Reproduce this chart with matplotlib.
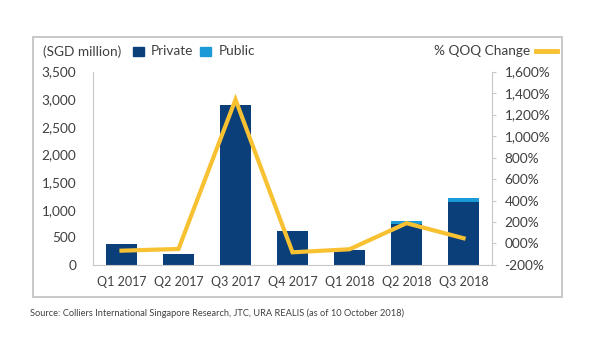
import numpy as np
import matplotlib.pyplot as plt
from matplotlib.patches import Rectangle
from matplotlib.lines import Line2D

quarters = ["Q1 2017", "Q2 2017", "Q3 2017", "Q4 2017", "Q1 2018", "Q2 2018", "Q3 2018"]
private = [380, 190, 2900, 620, 270, 740, 1140]
public = [0, 0, 0, 0, 0, 50, 75]
qoq_change = [-67, -51, 1340, -82, -54, 189, 49]

left_ticks = [0, 500, 1000, 1500, 2000, 2500, 3000, 3500]
right_ticks = [-200, 0, 200, 400, 600, 800, 1000, 1200, 1400, 1600]
right_labels = ["-200%", "000%", "200%", "400%", "600%", "800%",
                "1,000%", "1,200%", "1,400%", "1,600%"]

navy = "#0b3f7a"
light_blue = "#1a9ad7"
yellow = "#f8c132"
grey_text = "#404040"
axis_grey = "#c8c8c8"

plt.rcParams["font.family"] = ["Lato", "DejaVu Sans"]

fig = plt.figure(figsize=(6, 3.6), dpi=100)
ax = fig.add_axes([0.155, 0.264, 0.665, 0.537])
ax2 = ax.twinx()

x = np.arange(len(quarters))
ax.bar(x, private, width=0.53, color=navy, zorder=2)
ax.bar(x, public, width=0.53, bottom=private, color=light_blue, zorder=2)
ax2.plot(x, qoq_change, color=yellow, lw=3, solid_joinstyle="miter", zorder=3)

ax.set_xlim(-0.5, len(quarters) - 0.5)
ax.set_ylim(0, 3500)
ax.set_yticks(left_ticks)
ax.set_yticklabels([f"{v:,}" for v in left_ticks])
ax.set_xticks(x)
ax.set_xticklabels(quarters)
ax2.set_ylim(-200, 1600)
ax2.set_yticks(right_ticks)
ax2.set_yticklabels(right_labels)

for a in (ax, ax2):
    for s in a.spines.values():
        s.set_visible(False)
    a.tick_params(colors=grey_text, labelsize=9.8, length=0)
ax.spines["left"].set_visible(True)
ax.spines["left"].set_color(axis_grey)
ax.spines["bottom"].set_visible(True)
ax.spines["bottom"].set_color(axis_grey)
ax2.spines["right"].set_visible(True)
ax2.spines["right"].set_color(axis_grey)
ax2.tick_params(axis="y", length=3, color=axis_grey, direction="out", pad=6)
ax.tick_params(axis="y", pad=12)
ax.tick_params(axis="x", pad=8, labelsize=9)
ax2.set_zorder(ax.get_zorder() + 1)
ax2.patch.set_visible(False)

# outer frame
fig.patches.append(Rectangle((0.055, 0.175), 0.882, 0.722, transform=fig.transFigure,
                             fill=False, edgecolor="#bfbfbf", lw=1.2))

# legend row
fig.text(0.072, 0.857, "(SGD million)", fontsize=9.8, color=grey_text, va="center")
fig.patches.append(Rectangle((0.222, 0.844), 0.0183, 0.026, transform=fig.transFigure, color=navy))
fig.text(0.252, 0.857, "Private", fontsize=9.8, color=grey_text, va="center")
fig.patches.append(Rectangle((0.334, 0.844), 0.0183, 0.026, transform=fig.transFigure, color=light_blue))
fig.text(0.364, 0.857, "Public", fontsize=9.8, color=grey_text, va="center")
fig.text(0.883, 0.857, "% QOQ Change", fontsize=9.8, color=grey_text, va="center", ha="right")
fig.lines.append(Line2D([0.893, 0.928], [0.857, 0.857], transform=fig.transFigure,
                        color=yellow, lw=3.5))

fig.text(0.05, 0.131, "Source: Colliers International Singapore Research, JTC, URA REALIS (as of 10 October 2018)",
         fontsize=6.7, color=grey_text, va="center")

fig.savefig("out.png", dpi=100)
